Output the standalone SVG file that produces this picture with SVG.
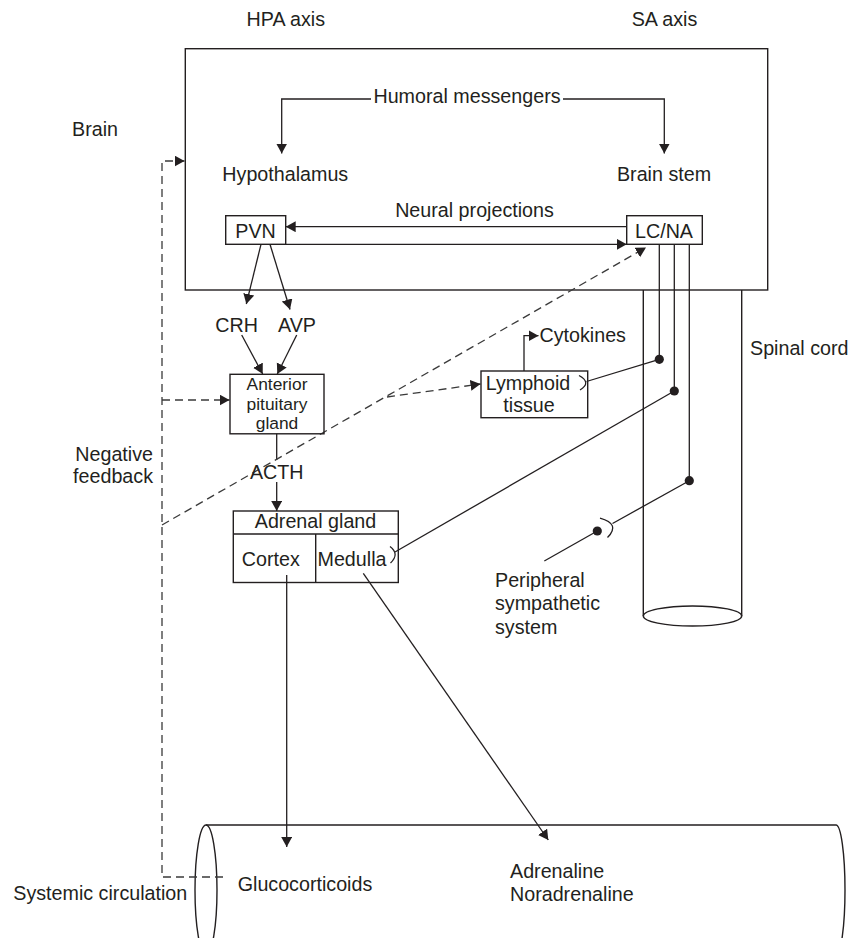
<svg xmlns="http://www.w3.org/2000/svg" width="851" height="938" viewBox="0 0 851 938">
<defs>
<style>
text{font-family:"Liberation Sans",Arial,Helvetica,sans-serif;font-size:19.7px;fill:#231f20}
.m{text-anchor:middle}
.e{text-anchor:end}
.sm{font-size:17.4px}
.ob{fill:none;stroke:#231f20;stroke-width:1.4}
.ln{fill:none;stroke:#231f20;stroke-width:1.3}
.ds{fill:none;stroke:#3a3a3a;stroke-width:1.3;stroke-dasharray:8 5}
.ar{marker-end:url(#ah)}
.dot{fill:#231f20}
</style>
<marker id="ah" markerUnits="userSpaceOnUse" viewBox="0 0 12 12" markerWidth="12" markerHeight="12" refX="10" refY="5.5" orient="auto"><path d="M0,0 L10,5.5 L0,11 z" fill="#231f20"/></marker>
</defs>
<rect width="851" height="938" fill="#fff"/>

<g id="labels">
<text class="m" x="285.8" y="26">HPA axis</text>
<text class="m" x="664.5" y="26">SA axis</text>
<text x="72" y="136">Brain</text>
<text class="e" x="153" y="461">Negative</text>
<text class="e" x="153" y="483">feedback</text>
</g>

<g id="brain">
<rect class="ob" x="185.3" y="48.7" width="582.4" height="241.3"/>
</g>
<g id="humoral"><text class="m" x="467" y="102.7">Humoral messengers</text></g>
<g id="hypothalamus"><text class="m" x="285.3" y="181">Hypothalamus</text></g>
<g id="brainstem"><text class="m" x="664" y="181">Brain stem</text></g>
<g id="neural"><text class="m" x="474.5" y="217">Neural projections</text></g>

<g id="spinal-cord">
<path class="ob" d="M643.3,290 V616 M741.7,290 V616"/>
<ellipse class="ob" cx="692.5" cy="616" rx="49.2" ry="10"/>
<text x="750" y="355">Spinal cord</text>
</g>

<g id="circulation">
<path class="ob" d="M206,825 H836 M836,825 A9,65 0 0 1 836,955"/>
<ellipse class="ob" cx="206" cy="890" rx="11" ry="65"/>
<text x="13.3" y="900">Systemic circulation</text>
<text x="237.7" y="890.7">Glucocorticoids</text>
<text x="510" y="877.7">Adrenaline</text>
<text x="510" y="901">Noradrenaline</text>
</g>

<g id="connectors">
<path class="ln ar" d="M371,99 H281.7 V153.5"/>
<path class="ln ar" d="M563,99 H664.3 V153.5"/>
<path class="ln ar" d="M626.7,226.7 H285.7"/>
<path class="ln ar" d="M285.7,244.3 H626.7"/>
<path class="ln ar" d="M261,244.3 L246.3,304"/>
<path class="ln ar" d="M270,244.3 L290,309.5"/>
<path class="ln ar" d="M241.7,335 L262.7,374"/>
<path class="ln ar" d="M296.7,335 L277.3,374"/>
<path class="ln" d="M276.7,433.8 V460"/>
<path class="ln ar" d="M276.7,482 V511"/>
<path class="ln ar" d="M286.7,575 V847"/>
<path class="ln ar" d="M363.3,573.3 L548.3,840"/>
<path class="ln ar" d="M524,371 V335.7 H538.5"/>
<path class="ln" d="M659.3,244.3 V359.3 M674.3,244.3 V391 M689.3,244.3 V480.7"/>
<path class="ln" d="M659.3,359.3 L586.5,381.5"/>
<path class="ln" d="M674.3,391 L395,552"/>
<path class="ln" d="M689.3,480.7 L612.5,523.5"/>
<path class="ln" d="M597.3,531 L544.3,561"/>
<path class="ln" d="M579,375.5 Q592,382.5 580,390"/>
<path class="ln" d="M390,546.5 Q400,554 390.5,563"/>
<path class="ln" d="M600,518 Q621,524 607.5,537.5"/>
<circle class="dot" cx="659.3" cy="359.3" r="4.6"/>
<circle class="dot" cx="674.3" cy="391" r="4.6"/>
<circle class="dot" cx="689.3" cy="480.7" r="4.6"/>
<circle class="dot" cx="597.3" cy="531" r="4.6"/>
<path class="ds ar" d="M223,877 H162 V161 H184.5"/>
<path class="ds ar" d="M162,400 H229.5"/>
<path class="ds ar" d="M162,525 L646,247.5"/>
<path class="ds ar" d="M387,397 L480.5,384"/>
</g>

<g id="pvn">
<rect class="ob" x="225.7" y="215.7" width="60" height="28.6"/>
<text class="m" x="255.5" y="238.3">PVN</text>
</g>
<g id="lcna">
<rect class="ob" x="626.7" y="215.7" width="75.6" height="28.6"/>
<text class="m" x="664" y="237.5">LC/NA</text>
</g>
<g id="crh"><text class="m" x="236.7" y="331.7">CRH</text></g>
<g id="avp"><text class="m" x="297" y="331.7">AVP</text></g>
<g id="pituitary">
<rect class="ob" x="230" y="374.3" width="94" height="59.5"/>
<text class="m sm" x="277" y="390">Anterior</text>
<text class="m sm" x="277" y="409.5">pituitary</text>
<text class="m sm" x="277" y="429">gland</text>
</g>
<g id="acth"><text class="m" x="276.7" y="479">ACTH</text></g>
<g id="adrenal">
<rect class="ob" x="233.3" y="511" width="165" height="71.5"/>
<path class="ob" d="M233.3,534 H398.3 M315.7,534 V582.5"/>
<text class="m" x="315.5" y="528">Adrenal gland</text>
<text class="m" x="270.8" y="565.7">Cortex</text>
<text class="m" x="352" y="565.7">Medulla</text>
</g>
<g id="lymphoid">
<rect class="ob" x="481" y="371" width="106.7" height="46.7"/>
<text class="m" x="528" y="389.8">Lymphoid</text>
<text class="m" x="529" y="412">tissue</text>
</g>
<g id="cytokines"><text x="539.5" y="341.7">Cytokines</text></g>
<g id="peripheral">
<text x="495" y="586.7">Peripheral</text>
<text x="495" y="610.3">sympathetic</text>
<text x="495" y="633.8">system</text>
</g>
</svg>
